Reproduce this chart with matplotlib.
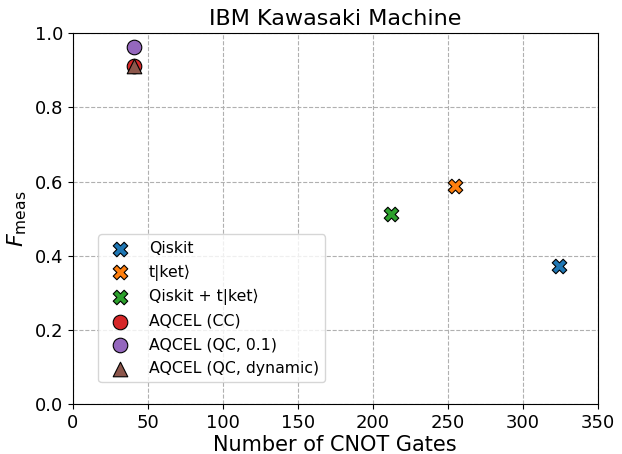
import matplotlib
matplotlib.use("Agg")
import matplotlib.pyplot as plt

labels = ["Qiskit", "t|ket⟩", "Qiskit + t|ket⟩", "AQCEL (CC)", "AQCEL (QC, 0.1)", "AQCEL (QC, dynamic)"]
cnots = [324, 255, 212, 41, 41, 41]
fmeas = [0.372, 0.588, 0.512, 0.911, 0.962, 0.911]
markers = ["X", "X", "X", "o", "o", "^"]
colors = ["tab:blue", "tab:orange", "tab:green", "tab:red", "tab:purple", "tab:brown"]

fig, ax = plt.subplots(figsize=(6.22, 4.54), dpi=100)
ax.grid(True, linestyle="--", color="#b0b0b0", zorder=0)
for lab, x, y, m, c in zip(labels, cnots, fmeas, markers, colors):
    ax.scatter(x, y, marker=m, s=110, color=c, edgecolors="black", linewidths=0.8, label=lab, zorder=3)

ax.set_xlim(0, 350)
ax.set_ylim(0, 1.0)
ax.set_title("IBM Kawasaki Machine", fontsize=16)
ax.set_xlabel("Number of CNOT Gates", fontsize=15, labelpad=2)
ax.set_ylabel(r"$F_{\rm meas}$", fontsize=16)
ax.tick_params(labelsize=13)
ax.legend(fontsize=11.3, loc="lower left", bbox_to_anchor=(0.034, 0.037), labelspacing=0.55)
fig.subplots_adjust(left=0.117, right=0.961, top=0.927, bottom=0.110)
fig.savefig("out.png", dpi=100)
